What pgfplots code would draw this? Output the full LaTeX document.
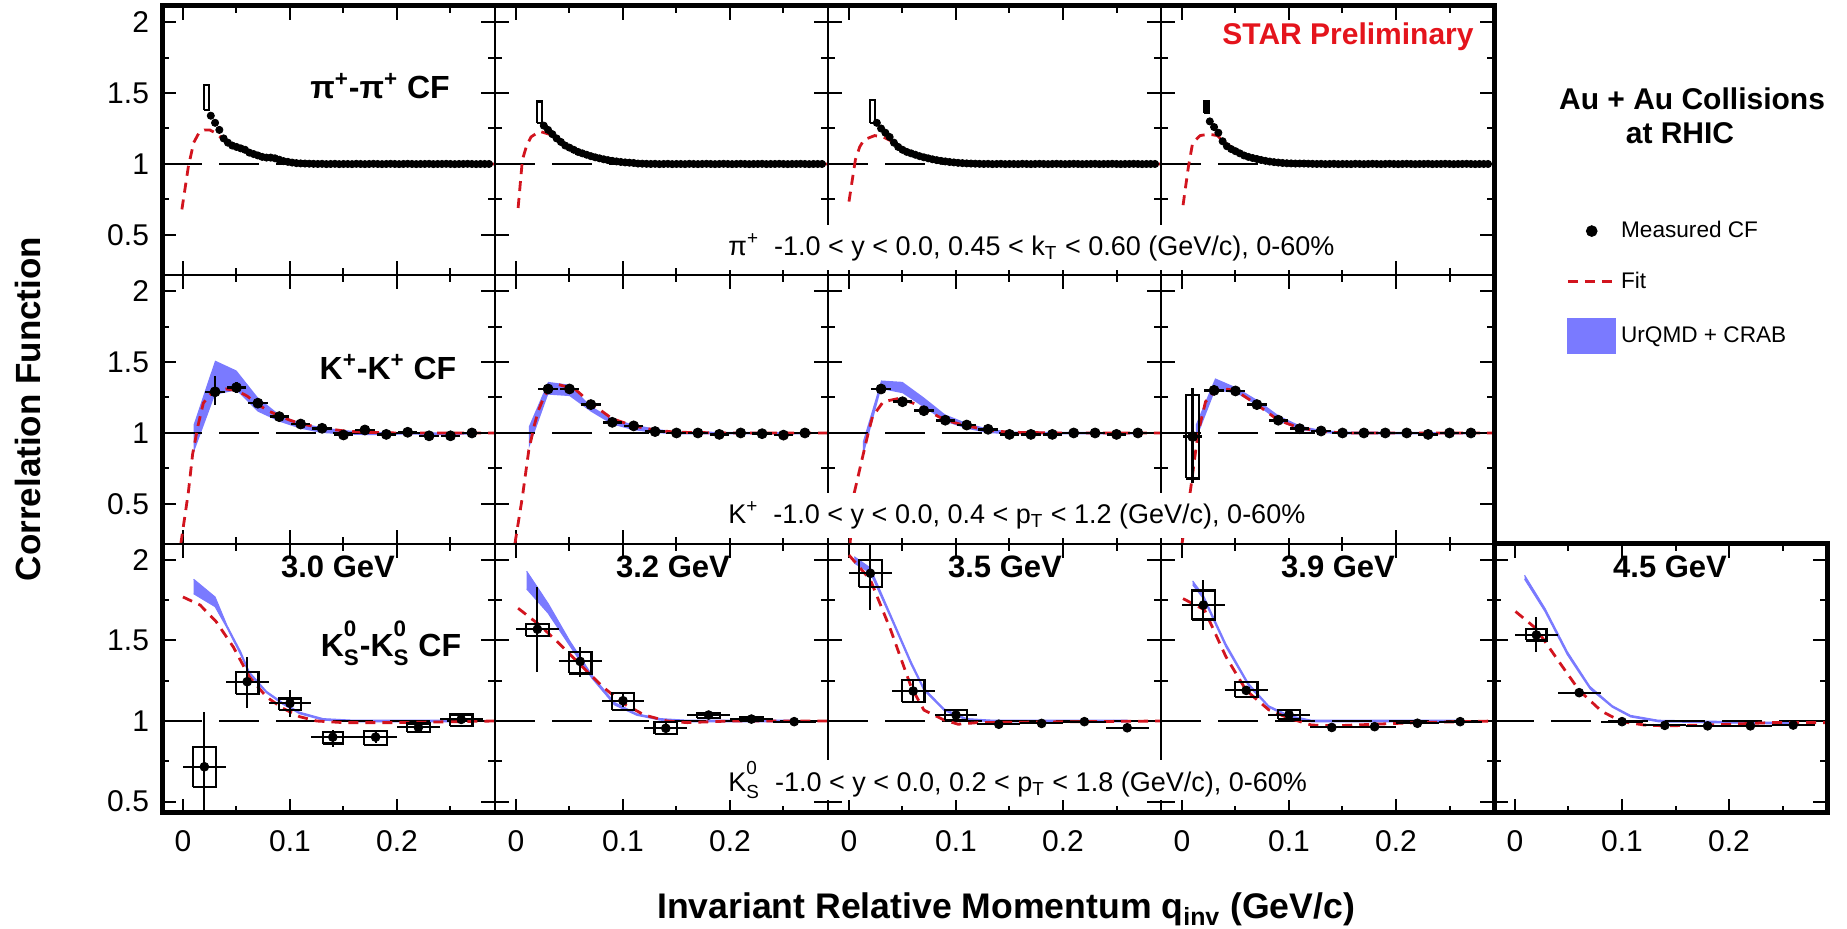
\documentclass[border=0pt]{standalone}
\usepackage{fontspec}
\setmainfont{Liberation Sans}
\usepackage{pgfplots}
\usepackage{pgfplotstable}
\pgfplotsset{compat=1.18}
\definecolor{urqmd}{RGB}{122,122,255}
\definecolor{fitred}{RGB}{210,20,30}
\definecolor{starred}{RGB}{228,20,28}
\newcommand{\KS}{K\rlap{\raisebox{0.25em}{\textsuperscript{0}}}\raisebox{-0.1em}{\textsubscript{S}}}

\pgfplotsset{
  cf/.style={scale only axis, width=166.5pt, height=134.5pt, xmin=-0.0196, xmax=0.2916,
    xtick={0,0.1,0.2}, minor xtick={0.05,0.15,0.25},
    ytick={0.5,1,1.5,2}, minor ytick={0.75,1.25,1.75},
    tick align=inside, axis line style={line width=1pt},
    major tick length=7pt, minor tick length=3.5pt,
    tick style={line width=1pt, black},
    xticklabels={}, yticklabels={},
    tick label style={font=\fontsize{15}{18}\selectfont},
    anchor=south west, clip=true},
  r12/.style={ymin=0.218, ymax=2.113},
  r3/.style={ymin=0.429, ymax=2.099},
  ylab/.style={yticklabels={0.5,1,1.5,2}, yticklabel style={xshift=-3pt}},
  xlab/.style={xticklabels={0,0.1,0.2}, xticklabel style={yshift=-5pt}},
  unity/.style={black, line width=1pt, dash pattern=on 20pt off 8.5pt, forget plot},
  fit/.style={fitred, line width=1.4pt, dash pattern=on 5pt off 3.5pt, forget plot},
  pim/.style={only marks, mark=*, mark size=1.8pt, black, forget plot},
  sysbox/.style={black, line width=1.1pt, forget plot},
  band/.style={fill=urqmd, draw=none, forget plot},
  thinband/.style={fill=urqmd, draw=urqmd, line width=0.5pt, forget plot},
  kpm/.style={only marks, mark=*, mark size=2.5pt, black, forget plot,
     error bars/.cd, x dir=both, x fixed=0.009, y dir=both, y explicit,
     error mark=none, error bar style={line width=1.3pt}},
  ksm/.style={only marks, mark=*, mark size=2.2pt, black, forget plot,
     error bars/.cd, x dir=both, x fixed=0.02, y dir=both, y explicit,
     error mark=none, error bar style={line width=1pt}},
}

% ---------------- pi+ pi+ data ----------------
\pgfplotstableread{
x y
0.114 1.003
0.118 1.002
0.122 1.001
0.126 1.000
0.130 1.001
0.134 0.999
0.138 1.000
0.142 1.001
0.146 0.999
0.150 1.000
0.154 1.000
0.158 0.999
0.162 1.001
0.166 1.000
0.170 0.999
0.174 1.000
0.178 1.001
0.182 1.000
0.186 0.999
0.190 1.000
0.194 1.001
0.198 1.000
0.202 0.999
0.206 1.000
0.210 1.001
0.214 1.000
0.218 0.999
0.222 1.000
0.226 1.000
0.230 1.001
0.234 0.999
0.238 1.000
0.242 1.000
0.246 1.001
0.250 1.000
0.254 0.999
0.258 1.000
0.262 1.000
0.266 1.001
0.270 1.000
0.274 0.999
0.278 1.000
0.282 1.000
0.286 1.000
}\piFlat
\pgfplotstableread{
x y
0.026 1.34
0.030 1.29
0.034 1.24
0.038 1.18
0.042 1.15
0.046 1.13
0.050 1.12
0.054 1.11
0.058 1.10
0.062 1.08
0.066 1.07
0.070 1.06
0.074 1.05
0.078 1.045
0.082 1.045
0.086 1.04
0.090 1.03
0.094 1.02
0.098 1.015
0.102 1.01
0.106 1.006
0.110 1.004
}\piA
\pgfplotstableread{
x y
0.026 1.27
0.030 1.24
0.034 1.21
0.038 1.18
0.042 1.155
0.046 1.13
0.050 1.115
0.054 1.10
0.058 1.085
0.062 1.075
0.066 1.065
0.070 1.055
0.074 1.047
0.078 1.04
0.082 1.033
0.086 1.027
0.090 1.022
0.094 1.018
0.098 1.014
0.102 1.011
0.106 1.009
0.110 1.007
}\piB
\pgfplotstableread{
x y
0.026 1.29
0.030 1.25
0.034 1.22
0.038 1.19
0.042 1.15
0.046 1.12
0.050 1.10
0.054 1.085
0.058 1.075
0.062 1.065
0.066 1.055
0.070 1.047
0.074 1.04
0.078 1.033
0.082 1.027
0.086 1.022
0.090 1.018
0.094 1.014
0.098 1.011
0.102 1.008
0.106 1.006
0.110 1.004
}\piC
\pgfplotstableread{
x y
0.026 1.30
0.030 1.26
0.034 1.22
0.038 1.16
0.042 1.125
0.046 1.105
0.050 1.09
0.054 1.075
0.058 1.06
0.062 1.05
0.066 1.042
0.070 1.035
0.074 1.028
0.078 1.022
0.082 1.017
0.086 1.013
0.090 1.01
0.094 1.007
0.098 1.005
0.102 1.004
0.106 1.003
0.110 1.003
}\piD
\pgfplotstableread{
x y
-0.001 0.68
0.005 0.98
0.010 1.15
0.015 1.22
0.020 1.24
0.025 1.24
0.030 1.22
0.035 1.19
0.040 1.16
0.050 1.12
0.060 1.09
0.070 1.06
0.080 1.04
0.090 1.025
0.100 1.015
0.120 1.005
0.150 1.0
0.291 1.0
}\piFitA
\pgfplotstableread{
x y
0.002 0.69
0.006 1.03
0.010 1.13
0.014 1.19
0.022 1.23
0.031 1.21
0.040 1.17
0.050 1.12
0.060 1.085
0.070 1.06
0.080 1.04
0.090 1.025
0.100 1.015
0.120 1.005
0.150 1.0
0.291 1.0
}\piFitB
\pgfplotstableread{
x y
0.000 0.735
0.006 1.03
0.010 1.12
0.014 1.17
0.024 1.20
0.032 1.19
0.040 1.16
0.050 1.11
0.060 1.08
0.070 1.055
0.080 1.035
0.090 1.022
0.100 1.013
0.120 1.004
0.150 1.0
0.291 1.0
}\piFitC
\pgfplotstableread{
x y
0.001 0.71
0.006 0.98
0.010 1.15
0.017 1.20
0.025 1.21
0.033 1.20
0.040 1.15
0.050 1.10
0.060 1.065
0.070 1.04
0.080 1.025
0.090 1.015
0.100 1.008
0.120 1.002
0.150 1.0
0.291 1.0
}\piFitD

% ---------------- K+ K+ data ----------------
\pgfplotstableread{
x y ep em
0.03 1.29 0.11 0.09
0.05 1.32 0.04 0.04
0.07 1.21 0.02 0.02
0.09 1.115 0.015 0.015
0.11 1.063 0.01 0.01
0.13 1.033 0.01 0.01
0.15 0.986 0.01 0.01
0.17 1.021 0.01 0.01
0.19 0.99 0.01 0.01
0.21 1.005 0.01 0.01
0.23 0.98 0.01 0.01
0.25 0.98 0.01 0.01
0.27 1.0 0.01 0.01
}\kA
\pgfplotstableread{
x y ep em
0.03 1.31 0.03 0.03
0.05 1.31 0.02 0.02
0.07 1.20 0.02 0.02
0.09 1.075 0.01 0.01
0.11 1.05 0.01 0.01
0.13 1.01 0.01 0.01
0.15 1.0 0.01 0.01
0.17 1.0 0.01 0.01
0.19 0.99 0.01 0.01
0.21 1.0 0.01 0.01
0.23 0.995 0.01 0.01
0.25 0.985 0.01 0.01
0.27 1.0 0.01 0.01
}\kB
\pgfplotstableread{
x y ep em
0.03 1.31 0.02 0.02
0.05 1.22 0.015 0.015
0.07 1.157 0.015 0.015
0.09 1.09 0.01 0.01
0.11 1.056 0.01 0.01
0.13 1.026 0.01 0.01
0.15 0.99 0.01 0.01
0.17 0.99 0.01 0.01
0.19 0.99 0.01 0.01
0.21 1.0 0.01 0.01
0.23 1.0 0.01 0.01
0.25 0.99 0.01 0.01
0.27 1.0 0.01 0.01
}\kC
\pgfplotstableread{
x y ep em
0.01 0.975 0.345 0.325
0.03 1.30 0.02 0.02
0.05 1.296 0.015 0.015
0.07 1.20 0.015 0.015
0.09 1.09 0.01 0.01
0.11 1.03 0.01 0.01
0.13 1.014 0.01 0.01
0.15 1.0 0.01 0.01
0.17 1.0 0.01 0.01
0.19 1.0 0.01 0.01
0.21 1.0 0.01 0.01
0.23 0.99 0.01 0.01
0.25 1.0 0.01 0.01
0.27 1.0 0.01 0.01
}\kD
\pgfplotstableread{
x y
-0.002 0.22
0.005 0.58
0.009 0.85
0.014 1.05
0.019 1.21
0.025 1.27
0.030 1.29
0.040 1.31
0.050 1.30
0.060 1.26
0.070 1.20
0.080 1.155
0.090 1.12
0.100 1.09
0.110 1.065
0.130 1.035
0.150 1.015
0.170 1.005
0.200 1.0
0.291 1.0
}\kFitA
\pgfplotstableread{
x y
-0.001 0.22
0.006 0.55
0.012 0.88
0.017 1.05
0.021 1.16
0.026 1.25
0.030 1.30
0.040 1.34
0.055 1.31
0.070 1.21
0.090 1.10
0.110 1.05
0.130 1.02
0.150 1.005
0.200 1.0
0.291 1.0
}\kFitB
\pgfplotstableread{
x y
0.001 0.22
0.005 0.58
0.013 0.84
0.018 1.0
0.022 1.115
0.032 1.22
0.047 1.244
0.060 1.21
0.070 1.17
0.090 1.09
0.110 1.05
0.130 1.02
0.150 1.005
0.200 1.0
0.291 1.0
}\kFitC
\pgfplotstableread{
x y
0.000 0.22
0.008 0.60
0.015 1.0
0.022 1.22
0.031 1.30
0.040 1.31
0.050 1.30
0.070 1.20
0.090 1.09
0.110 1.035
0.130 1.012
0.150 1.0
0.291 1.0
}\kFitD
% UrQMD+CRAB bands as closed outlines: lower edge left to right, upper edge back
\pgfplotstableread{
x y
0.010 0.86
0.030 1.27
0.050 1.30
0.070 1.15
0.090 1.08
0.110 1.03
0.130 1.00
0.150 0.99
0.170 0.985
0.190 0.985
0.210 0.99
0.230 0.985
0.250 0.985
0.270 0.99
0.270 1.005
0.250 1.005
0.230 1.005
0.210 1.005
0.190 1.005
0.170 1.01
0.150 1.02
0.130 1.04
0.110 1.07
0.090 1.13
0.070 1.25
0.050 1.44
0.030 1.51
0.010 1.06
}\bKA
\pgfplotstableread{
x y
0.012 0.89
0.030 1.27
0.050 1.26
0.070 1.15
0.090 1.06
0.110 1.02
0.130 1.00
0.150 0.99
0.270 0.99
0.270 1.005
0.150 1.01
0.130 1.03
0.110 1.06
0.090 1.10
0.070 1.19
0.050 1.34
0.030 1.36
0.012 1.045
}\bKB
\pgfplotstableread{
x y
0.013 0.83
0.030 1.31
0.050 1.28
0.070 1.18
0.090 1.08
0.110 1.03
0.130 1.00
0.150 0.99
0.270 0.99
0.270 1.005
0.150 1.01
0.130 1.03
0.110 1.07
0.090 1.13
0.070 1.25
0.050 1.36
0.030 1.37
0.013 0.94
}\bKC
\pgfplotstableread{
x y
0.013 0.95
0.031 1.30
0.051 1.28
0.071 1.19
0.091 1.08
0.111 1.02
0.131 1.00
0.151 0.99
0.271 0.99
0.271 1.005
0.151 1.01
0.131 1.02
0.111 1.05
0.091 1.12
0.071 1.23
0.051 1.32
0.031 1.385
0.013 1.06
}\bKD

% ---------------- K0s K0s data ----------------
\pgfplotstableread{
x y ep em
0.02 0.716 0.342 0.28
0.06 1.244 0.156 0.164
0.10 1.11 0.085 0.083
0.14 0.90 0.044 0.06
0.18 0.90 0.035 0.035
0.22 0.96 0.02 0.02
0.26 1.01 0.02 0.02
}\sA
\pgfplotstableread{
x y ep em
0.02 1.57 0.26 0.264
0.06 1.37 0.09 0.095
0.10 1.126 0.04 0.04
0.14 0.955 0.03 0.03
0.18 1.037 0.015 0.015
0.22 1.012 0.015 0.015
0.26 0.996 0.015 0.015
}\sB
\pgfplotstableread{
x y ep em
0.02 1.917 0.18 0.227
0.06 1.186 0.07 0.07
0.10 1.037 0.03 0.03
0.14 0.98 0.015 0.015
0.18 0.985 0.015 0.015
0.22 0.996 0.015 0.015
0.26 0.958 0.015 0.015
}\sC
\pgfplotstableread{
x y ep em
0.02 1.72 0.156 0.155
0.06 1.19 0.03 0.03
0.10 1.04 0.02 0.02
0.14 0.96 0.015 0.015
0.18 0.965 0.015 0.015
0.22 0.986 0.015 0.015
0.26 0.996 0.015 0.015
}\sD
\pgfplotstableread{
x y ep em
0.02 1.534 0.11 0.104
0.06 1.176 0.015 0.015
0.10 0.996 0.015 0.015
0.14 0.973 0.015 0.015
0.18 0.97 0.015 0.015
0.22 0.97 0.015 0.015
0.26 0.975 0.015 0.015
}\sE
\pgfplotstableread{
x y
0.000 1.77
0.016 1.72
0.031 1.617
0.047 1.46
0.062 1.275
0.078 1.15
0.093 1.08
0.109 1.027
0.125 1.0
0.150 0.99
0.200 0.99
0.291 1.0
}\sFitA
\pgfplotstableread{
x y
0.002 1.70
0.022 1.596
0.039 1.49
0.060 1.35
0.081 1.213
0.100 1.11
0.120 1.037
0.141 1.0
0.160 0.99
0.200 1.0
0.291 1.0
}\sFitB
\pgfplotstableread{
x y
0.000 2.03
0.020 1.876
0.039 1.565
0.058 1.213
0.070 1.068
0.089 1.006
0.102 0.98
0.120 0.99
0.200 0.995
0.291 1.0
}\sFitC
\pgfplotstableread{
x y
0.001 1.76
0.021 1.69
0.041 1.40
0.060 1.19
0.081 1.07
0.100 1.017
0.121 0.975
0.142 0.97
0.180 0.98
0.220 0.99
0.291 1.0
}\sFitD
\pgfplotstableread{
x y
0.0005 1.68
0.0195 1.575
0.042 1.36
0.060 1.19
0.081 1.06
0.100 0.996
0.121 0.975
0.140 0.97
0.180 0.975
0.240 0.99
0.291 0.99
}\sFitE
\pgfplotstableread{
x y
0.010 1.79
0.030 1.71
0.041 1.58
0.054 1.41
0.062 1.29
0.078 1.175
0.093 1.105
0.109 1.045
0.131 1.005
0.160 0.995
0.260 0.995
0.260 1.005
0.160 1.005
0.131 1.015
0.109 1.055
0.093 1.115
0.078 1.185
0.062 1.305
0.054 1.43
0.041 1.595
0.030 1.77
0.010 1.88
}\bSA
\pgfplotstableread{
x y
0.010 1.82
0.030 1.67
0.050 1.47
0.071 1.265
0.092 1.10
0.113 1.035
0.135 1.005
0.160 0.995
0.260 0.995
0.260 1.005
0.160 1.005
0.135 1.015
0.113 1.045
0.092 1.115
0.071 1.285
0.050 1.50
0.030 1.73
0.010 1.93
}\bSB
\pgfplotstableread{
x y
0.005 1.98
0.020 1.92
0.039 1.64
0.058 1.35
0.070 1.19
0.089 1.065
0.110 1.005
0.135 0.995
0.260 0.995
0.260 1.005
0.135 1.005
0.110 1.015
0.089 1.075
0.070 1.205
0.058 1.37
0.039 1.66
0.020 1.95
0.005 2.02
}\bSC
\pgfplotstableread{
x y
0.010 1.845
0.020 1.76
0.041 1.46
0.062 1.22
0.081 1.085
0.100 1.025
0.121 0.995
0.260 0.995
0.260 1.005
0.121 1.005
0.100 1.035
0.081 1.095
0.062 1.235
0.041 1.48
0.020 1.78
0.010 1.87
}\bSD
\pgfplotstableread{
x y
0.009 1.88
0.028 1.68
0.049 1.41
0.070 1.20
0.091 1.085
0.108 1.025
0.134 0.995
0.260 0.98
0.260 0.99
0.134 1.005
0.108 1.035
0.091 1.095
0.070 1.215
0.049 1.43
0.028 1.70
0.009 1.905
}\bSE

\begin{document}
\begin{tikzpicture}
\path[use as bounding box] (0pt,0pt) rectangle (923.5pt,464.5pt);

% ===== Row 1: pi+ pi+ =====
\begin{axis}[cf, r12, ylab, at={(81pt,327pt)}]
\addplot[unity] coordinates {(-0.0196,1) (0.2916,1)};
\addplot[fit] table {\piFitA};
\addplot[sysbox, fill=white] coordinates {(0.0200,1.380) (0.0245,1.380) (0.0245,1.556) (0.0200,1.556) (0.0200,1.380)};
\addplot[pim] table {\piA};
\addplot[pim] table {\piFlat};
\end{axis}
\begin{axis}[cf, r12, at={(247.5pt,327pt)}]
\addplot[unity] coordinates {(-0.0196,1) (0.2916,1)};
\addplot[fit] table {\piFitB};
\addplot[sysbox, fill=white] coordinates {(0.0200,1.29) (0.0245,1.29) (0.0245,1.44) (0.0200,1.44) (0.0200,1.29)};
\addplot[pim] table {\piB};
\addplot[pim] table {\piFlat};
\end{axis}
\begin{axis}[cf, r12, at={(414pt,327pt)}]
\addplot[unity] coordinates {(-0.0196,1) (0.2916,1)};
\addplot[fit] table {\piFitC};
\addplot[sysbox, fill=white] coordinates {(0.0195,1.29) (0.0240,1.29) (0.0240,1.45) (0.0195,1.45) (0.0195,1.29)};
\addplot[pim] table {\piC};
\addplot[pim] table {\piFlat};
\end{axis}
\begin{axis}[cf, r12, at={(580.5pt,327pt)},
  legend style={at={(1.216,0.2156)}, anchor=north west, draw=none, fill=none,
    font=\fontsize{11.3}{13.5}\selectfont, row sep=11.5pt, inner sep=0pt},
  legend cell align=left]
\addlegendimage{black, only marks, mark=*, mark size=2.7pt,
  legend image code/.code={\draw[mark repeat=2, mark phase=2, only marks] plot coordinates {(0pt,0pt) (12pt,0pt) (24pt,0pt)};}}
\addlegendentry{Measured CF}
\addlegendimage{fitred, line width=1.4pt, dash pattern=on 5pt off 3.5pt,
  legend image code/.code={\draw (0pt,0pt) -- (24pt,0pt);}}
\addlegendentry{Fit}
\addlegendimage{legend image code/.code={\fill[urqmd] (0pt,-8.75pt) rectangle (24pt,8.75pt);}}
\addlegendentry{UrQMD + CRAB}
\addplot[unity] coordinates {(-0.0196,1) (0.2916,1)};
\addplot[fit] table {\piFitD};
\addplot[sysbox, fill=black] coordinates {(0.021,1.36) (0.025,1.36) (0.025,1.44) (0.021,1.44) (0.021,1.36)};
\addplot[pim] table {\piD};
\addplot[pim] table {\piFlat};
\end{axis}

% ===== Row 2: K+ K+ =====
\begin{axis}[cf, r12, ylab, at={(81pt,192.5pt)}]
\addplot[band] table {\bKA};
\addplot[unity] coordinates {(-0.0196,1) (0.2916,1)};
\addplot[fit] table {\kFitA};
\addplot[kpm] table[x=x, y=y, y error plus=ep, y error minus=em] {\kA};
\end{axis}
\begin{axis}[cf, r12, at={(247.5pt,192.5pt)}]
\addplot[band] table {\bKB};
\addplot[unity] coordinates {(-0.0196,1) (0.2916,1)};
\addplot[fit] table {\kFitB};
\addplot[kpm] table[x=x, y=y, y error plus=ep, y error minus=em] {\kB};
\end{axis}
\begin{axis}[cf, r12, at={(414pt,192.5pt)}]
\addplot[band] table {\bKC};
\addplot[unity] coordinates {(-0.0196,1) (0.2916,1)};
\addplot[fit] table {\kFitC};
\addplot[kpm] table[x=x, y=y, y error plus=ep, y error minus=em] {\kC};
\end{axis}
\begin{axis}[cf, r12, at={(580.5pt,192.5pt)}]
\addplot[band] table {\bKD};
\addplot[unity] coordinates {(-0.0196,1) (0.2916,1)};
\addplot[fit] table {\kFitD};
\addplot[sysbox] coordinates {(0.0035,0.68) (0.0162,0.68) (0.0162,1.27) (0.0035,1.27) (0.0035,0.68)};
\addplot[kpm] table[x=x, y=y, y error plus=ep, y error minus=em] {\kD};
\end{axis}

% ===== Row 3: K0s K0s =====
\begin{axis}[cf, r3, ylab, xlab, at={(81pt,58pt)}]
\addplot[thinband] table {\bSA};
\addplot[unity] coordinates {(-0.0196,1) (0.2916,1)};
\addplot[fit] table {\sFitA};
\addplot[sysbox] coordinates {(0.0095,0.59) (0.0305,0.59) (0.0305,0.84) (0.0095,0.84) (0.0095,0.59)};
\addplot[sysbox] coordinates {(0.0495,1.17) (0.0705,1.17) (0.0705,1.305) (0.0495,1.305) (0.0495,1.17)};
\addplot[sysbox] coordinates {(0.0895,1.07) (0.1105,1.07) (0.1105,1.14) (0.0895,1.14) (0.0895,1.07)};
\addplot[sysbox] coordinates {(0.1307,0.86) (0.1493,0.86) (0.1493,0.934) (0.1307,0.934) (0.1307,0.86)};
\addplot[sysbox] coordinates {(0.1695,0.85) (0.1905,0.85) (0.1905,0.94) (0.1695,0.94) (0.1695,0.85)};
\addplot[sysbox] coordinates {(0.2095,0.93) (0.2305,0.93) (0.2305,0.984) (0.2095,0.984) (0.2095,0.93)};
\addplot[sysbox] coordinates {(0.2495,0.97) (0.2705,0.97) (0.2705,1.04) (0.2495,1.04) (0.2495,0.97)};
\addplot[ksm] table[x=x, y=y, y error plus=ep, y error minus=em] {\sA};
\end{axis}
\begin{axis}[cf, r3, xlab, at={(247.5pt,58pt)}]
\addplot[thinband] table {\bSB};
\addplot[unity] coordinates {(-0.0196,1) (0.2916,1)};
\addplot[fit] table {\sFitB};
\addplot[sysbox] coordinates {(0.0095,1.53) (0.0305,1.53) (0.0305,1.60) (0.0095,1.60) (0.0095,1.53)};
\addplot[sysbox] coordinates {(0.0495,1.295) (0.0705,1.295) (0.0705,1.43) (0.0495,1.43) (0.0495,1.295)};
\addplot[sysbox] coordinates {(0.0895,1.068) (0.1105,1.068) (0.1105,1.176) (0.0895,1.176) (0.0895,1.068)};
\addplot[sysbox] coordinates {(0.1295,0.92) (0.1505,0.92) (0.1505,0.996) (0.1295,0.996) (0.1295,0.92)};
\addplot[sysbox] coordinates {(0.1695,1.02) (0.1905,1.02) (0.1905,1.05) (0.1695,1.05) (0.1695,1.02)};
\addplot[sysbox] coordinates {(0.2095,1.0) (0.2305,1.0) (0.2305,1.025) (0.2095,1.025) (0.2095,1.0)};
\addplot[ksm] table[x=x, y=y, y error plus=ep, y error minus=em] {\sB};
\end{axis}
\begin{axis}[cf, r3, xlab, at={(414pt,58pt)}]
\addplot[thinband] table {\bSC};
\addplot[unity] coordinates {(-0.0196,1) (0.2916,1)};
\addplot[fit] table {\sFitC};
\addplot[sysbox] coordinates {(0.0095,1.834) (0.0305,1.834) (0.0305,2.0) (0.0095,2.0) (0.0095,1.834)};
\addplot[sysbox] coordinates {(0.0495,1.12) (0.0705,1.12) (0.0705,1.255) (0.0495,1.255) (0.0495,1.12)};
\addplot[sysbox] coordinates {(0.0895,1.006) (0.1105,1.006) (0.1105,1.068) (0.0895,1.068) (0.0895,1.006)};
\addplot[ksm] table[x=x, y=y, y error plus=ep, y error minus=em] {\sC};
\end{axis}
\begin{axis}[cf, r3, xlab, at={(580.5pt,58pt)}]
\addplot[thinband] table {\bSD};
\addplot[unity] coordinates {(-0.0196,1) (0.2916,1)};
\addplot[fit] table {\sFitD};
\addplot[sysbox] coordinates {(0.0095,1.63) (0.0305,1.63) (0.0305,1.81) (0.0095,1.81) (0.0095,1.63)};
\addplot[sysbox] coordinates {(0.0495,1.15) (0.0705,1.15) (0.0705,1.24) (0.0495,1.24) (0.0495,1.15)};
\addplot[sysbox] coordinates {(0.0895,1.01) (0.1105,1.01) (0.1105,1.068) (0.0895,1.068) (0.0895,1.01)};
\addplot[ksm] table[x=x, y=y, y error plus=ep, y error minus=em] {\sD};
\end{axis}
\begin{axis}[cf, r3, xlab, at={(747pt,58pt)}]
\addplot[thinband] table {\bSE};
\addplot[unity] coordinates {(-0.0196,1) (0.2916,1)};
\addplot[fit] table {\sFitE};
\addplot[sysbox] coordinates {(0.0105,1.50) (0.0295,1.50) (0.0295,1.57) (0.0105,1.57) (0.0105,1.50)};
\addplot[ksm] table[x=x, y=y, y error plus=ep, y error minus=em] {\sE};
\end{axis}

% ===== annotations =====
\node[fill=white, anchor=west, inner xsep=6pt, inner ysep=0pt, minimum height=22.5pt,
  font=\fontsize{13.5}{16}\selectfont] at (358pt,340.75pt)
  {π\textsuperscript{+}\ \ -1.0 < y < 0.0, 0.45 < k\textsubscript{T} < 0.60 (GeV/c), 0-60\%};
\node[fill=white, anchor=west, inner xsep=6pt, inner ysep=0pt, minimum height=22.5pt,
  font=\fontsize{13.5}{16}\selectfont] at (358pt,206.75pt)
  {K\textsuperscript{+}\ \ -1.0 < y < 0.0, 0.4 < p\textsubscript{T} < 1.2 (GeV/c), 0-60\%};
\node[fill=white, anchor=west, inner xsep=6pt, inner ysep=0pt, minimum height=20pt,
  font=\fontsize{13.5}{16}\selectfont] at (358pt,74.5pt)
  {\KS\ \ -1.0 < y < 0.0, 0.2 < p\textsubscript{T} < 1.8 (GeV/c), 0-60\%};

\node[font=\bfseries\fontsize{16}{19}\selectfont] at (190pt,421.5pt) {π\textsuperscript{+}-π\textsuperscript{+} CF};
\node[font=\bfseries\fontsize{16}{19}\selectfont] at (194pt,281pt) {K\textsuperscript{+}-K\textsuperscript{+} CF};
\node[font=\bfseries\fontsize{16}{19}\selectfont] at (195.5pt,143pt) {\KS-\KS\ CF};

\node[font=\bfseries\fontsize{15.5}{18}\selectfont] at (169pt,181pt) {3.0 GeV};
\node[font=\bfseries\fontsize{15.5}{18}\selectfont] at (336.5pt,181pt) {3.2 GeV};
\node[font=\bfseries\fontsize{15.5}{18}\selectfont] at (502.5pt,181pt) {3.5 GeV};
\node[font=\bfseries\fontsize{15.5}{18}\selectfont] at (669pt,181pt) {3.9 GeV};
\node[font=\bfseries\fontsize{15.5}{18}\selectfont] at (835pt,181pt) {4.5 GeV};

\node[font=\bfseries\fontsize{15}{18}\selectfont, text=starred] at (674pt,446pt) {STAR Preliminary};
\node[font=\bfseries\fontsize{15}{18}\selectfont] at (846pt,415pt) {Au + Au Collisions};
\node[font=\bfseries\fontsize{15}{18}\selectfont] at (840pt,398pt) {at RHIC};

\node[rotate=90, font=\bfseries\fontsize{17.5}{20}\selectfont] at (14pt,260pt) {Correlation Function};
\node[anchor=base, font=\bfseries\fontsize{17.8}{20}\selectfont] at (503pt,5pt) {Invariant Relative Momentum q\textsubscript{inv} (GeV/c)};

% ===== thick outer frame =====
\draw[line width=2.5pt] (81pt,461.5pt) -- (747pt,461.5pt) -- (747pt,192.5pt) -- (913.5pt,192.5pt) -- (913.5pt,58pt) -- (81pt,58pt) -- cycle;
\draw[line width=2.5pt] (747pt,192.5pt) -- (747pt,58pt);
\end{tikzpicture}
\end{document}
